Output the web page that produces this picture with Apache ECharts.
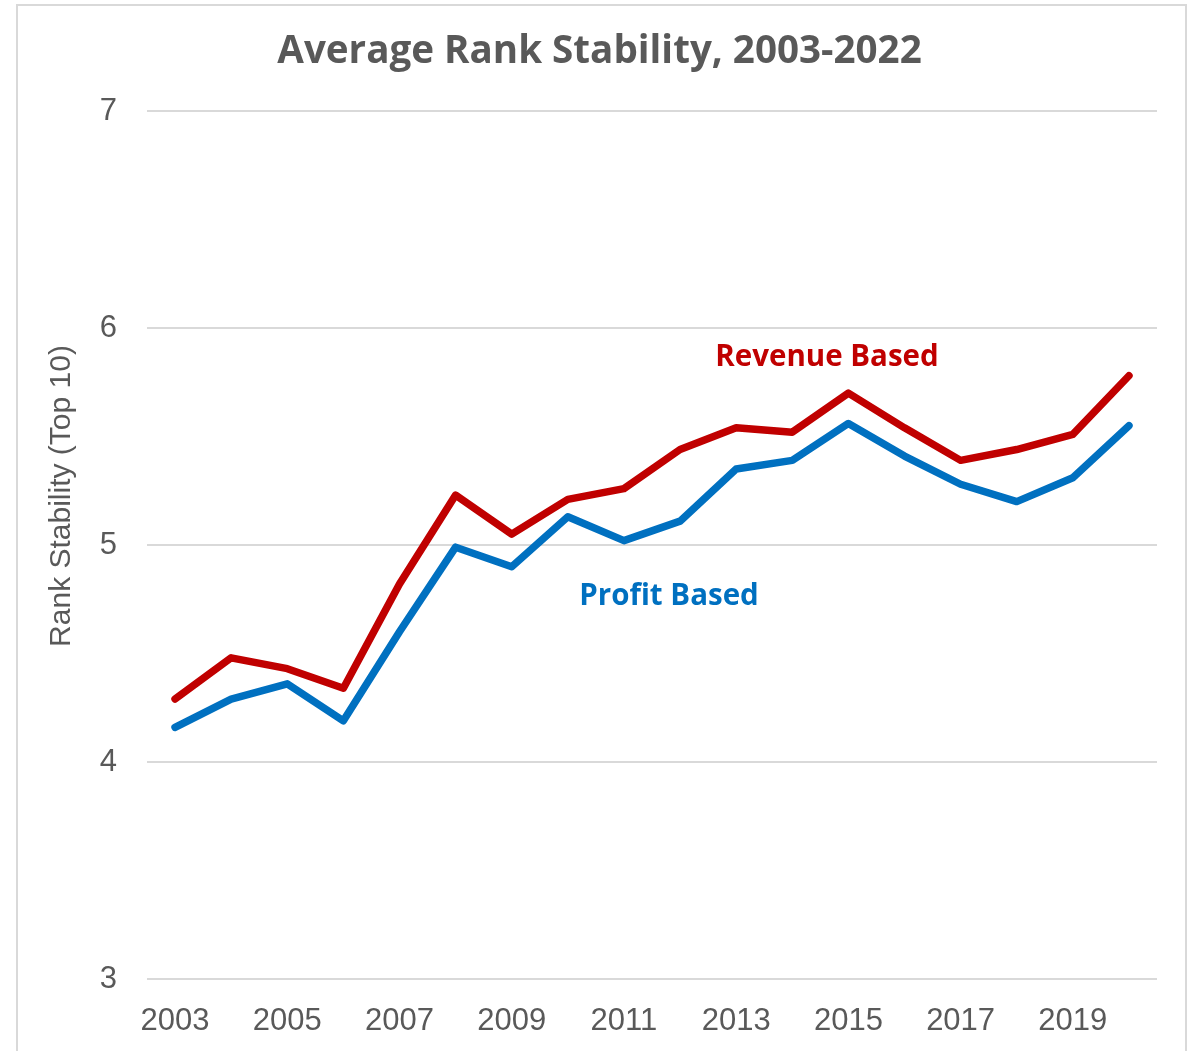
<!DOCTYPE html>
<html>
<head>
<meta charset="utf-8">
<script src="https://cdn.jsdelivr.net/npm/echarts@6/dist/echarts.min.js"></script>
<style>
  html, body { margin: 0; padding: 0; background: #fff; }
  #chart { width: 1199px; height: 1051px; }
</style>
</head>
<body>
<div id="chart"></div>
<script>
const years = ['2003', '2004', '2005', '2006', '2007', '2008', '2009', '2010', '2011',
  '2012', '2013', '2014', '2015', '2016', '2017', '2018', '2019', '2020'];
const revenueBased = [4.29, 4.48, 4.43, 4.34, 4.82, 5.23, 5.05, 5.21, 5.26,
  5.44, 5.54, 5.52, 5.70, 5.54, 5.39, 5.44, 5.51, 5.78];
const profitBased = [4.16, 4.29, 4.36, 4.19, 4.60, 4.99, 4.90, 5.13, 5.02,
  5.11, 5.35, 5.39, 5.56, 5.41, 5.28, 5.20, 5.31, 5.55];

const grey = '#595959';
const chart = echarts.init(document.getElementById('chart'));

chart.setOption({
  animation: false,
  title: {
    text: 'Average Rank Stability, 2003-2022',
    left: 'center',
    top: 28,
    textStyle: { fontFamily: 'Open Sans', fontWeight: 'bold', fontSize: 38.6, color: grey }
  },
  grid: { left: 147, right: 42, top: 111, bottom: 72, containLabel: false },
  xAxis: {
    type: 'category',
    data: years,
    boundaryGap: true,
    axisLine: { show: false },
    axisTick: { show: false },
    axisLabel: {
      interval: 1,
      margin: 27,
      fontFamily: 'Liberation Sans',
      fontSize: 31,
      color: grey
    }
  },
  yAxis: {
    type: 'value',
    min: 3,
    max: 7,
    interval: 1,
    axisLine: { show: false },
    axisTick: { show: false },
    axisLabel: { margin: 30, fontFamily: 'Liberation Sans', fontSize: 31, color: grey },
    splitLine: { lineStyle: { color: '#d9d9d9', width: 2 } }
  },
  graphic: [
    {
      type: 'rect',
      shape: { x: 17, y: 5, width: 1169, height: 1060 },
      style: { fill: 'none', stroke: '#d9d9d9', lineWidth: 2 },
      silent: true
    },
    {
      type: 'text',
      x: 62, y: 496,
      rotation: Math.PI / 2,
      style: {
        text: 'Rank Stability (Top 10)',
        fontFamily: 'Liberation Sans', fontSize: 30, fill: grey,
        align: 'center', verticalAlign: 'middle'
      }
    },
    {
      type: 'text',
      x: 827, y: 358,
      style: {
        text: 'Revenue Based',
        fontFamily: 'Open Sans', fontWeight: 'bold', fontSize: 29.5, fill: '#C00000',
        align: 'center', verticalAlign: 'middle'
      }
    },
    {
      type: 'text',
      x: 669, y: 597,
      style: {
        text: 'Profit Based',
        fontFamily: 'Open Sans', fontWeight: 'bold', fontSize: 29.5, fill: '#0070C0',
        align: 'center', verticalAlign: 'middle'
      }
    }
  ],
  series: [
    {
      name: 'Revenue Based',
      type: 'line',
      data: revenueBased,
      symbol: 'none',
      lineStyle: { color: '#C00000', width: 7.5, cap: 'round', join: 'round' }
    },
    {
      name: 'Profit Based',
      type: 'line',
      data: profitBased,
      symbol: 'none',
      lineStyle: { color: '#0070C0', width: 7.5, cap: 'round', join: 'round' }
    }
  ]
});
</script>
</body>
</html>
